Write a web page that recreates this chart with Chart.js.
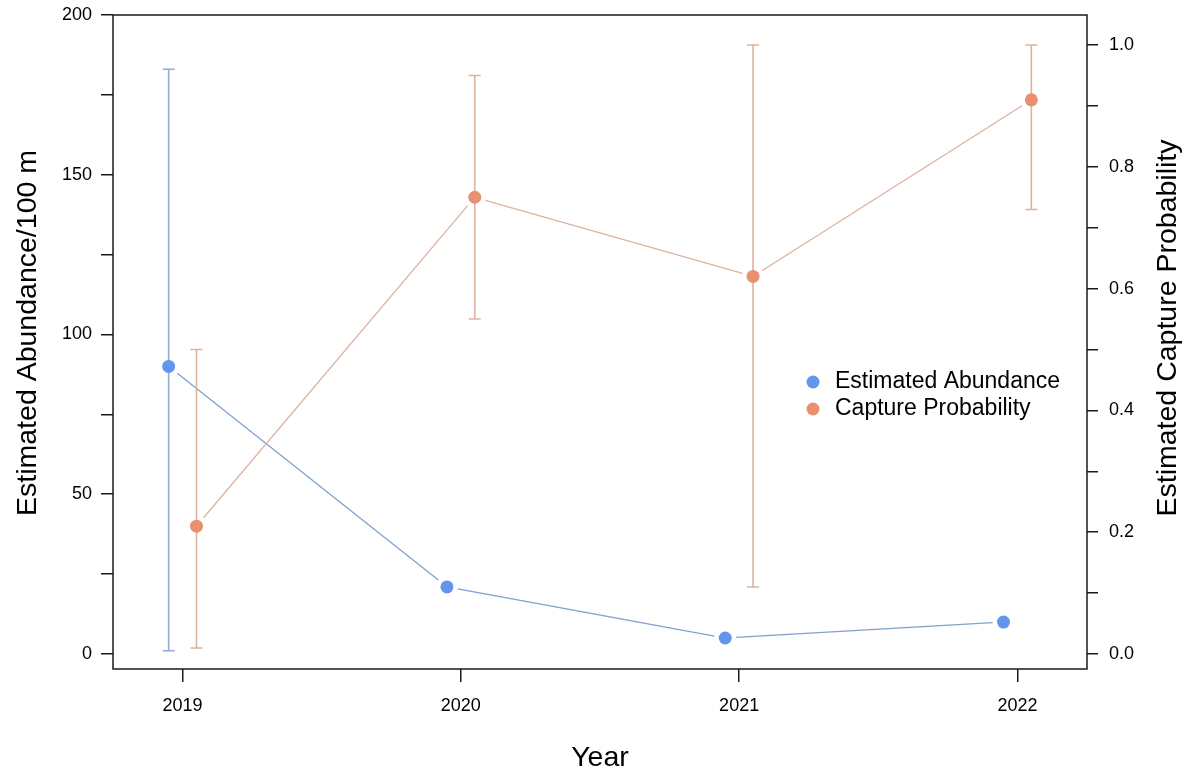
<!DOCTYPE html>
<html>
<head>
<meta charset="utf-8">
<title>Abundance and capture probability</title>
<script src="https://cdn.jsdelivr.net/npm/chart.js@4.4.1/dist/chart.umd.min.js"></script>
<style>
  html, body { margin: 0; padding: 0; background: #fff; }
  canvas { display: block; }
</style>
</head>
<body>
<canvas id="chart" width="1191" height="772"></canvas>
<script>
// survey years
const years = [2019, 2020, 2021, 2022];

// estimated abundance per 100 m with confidence limits
const abundance = [90, 21, 5, 10];
const abundanceLow = [1, null, null, null];
const abundanceHigh = [183, null, null, null];

// capture probability with confidence limits
const probability = [0.21, 0.75, 0.62, 0.91];
const probabilityLow = [0.01, 0.55, 0.11, 0.73];
const probabilityHigh = [0.50, 0.95, 1.00, 1.00];

// axis ticks (labels only on every other one)
const leftTicks = [0, 25, 50, 75, 100, 125, 150, 175, 200];
const rightTicks = [0, 0.1, 0.2, 0.3, 0.4, 0.5, 0.6, 0.7, 0.8, 0.9, 1.0];

const FONT = "'Liberation Sans', Arial, sans-serif";
const BLUE = '#6495ED';
const BLUE_LINE = '#7fa1cc';
const BLUE_BAR = '#92add3';
const ORANGE = '#E8906F';
const ORANGE_LINE = '#dcb39e';
const DODGE = 0.05;

// error bars + connecting lines that stop short of the points
const whiskers = {
    id: 'whiskers',
    beforeDatasetsDraw(chart) {
        const ctx = chart.ctx;
        const xs = chart.scales.x;
        chart.data.datasets.forEach((ds) => {
            const ys = chart.scales[ds.yAxisID];
            const pts = ds.data.map(d => ({ x: xs.getPixelForValue(d.x), y: ys.getPixelForValue(d.y) }));

            ctx.save();
            ctx.strokeStyle = ds.barColor;
            ctx.lineWidth = 1.6;
            ds.low.forEach((lo, i) => {
                const hi = ds.high[i];
                if (lo == null || hi == null) return;
                const x = pts[i].x;
                const y1 = ys.getPixelForValue(lo);
                const y2 = ys.getPixelForValue(hi);
                ctx.beginPath();
                ctx.moveTo(x, y1); ctx.lineTo(x, y2);
                ctx.moveTo(x - 6, y1); ctx.lineTo(x + 6, y1);
                ctx.moveTo(x - 6, y2); ctx.lineTo(x + 6, y2);
                ctx.stroke();
            });

            ctx.strokeStyle = ds.lineColor;
            ctx.lineWidth = 1.3;
            const gap = 11;
            for (let i = 0; i < pts.length - 1; i++) {
                const a = pts[i], b = pts[i + 1];
                const dx = b.x - a.x, dy = b.y - a.y;
                const len = Math.hypot(dx, dy);
                if (len <= gap * 2) continue;
                const ux = dx / len, uy = dy / len;
                ctx.beginPath();
                ctx.moveTo(a.x + ux * gap, a.y + uy * gap);
                ctx.lineTo(b.x - ux * gap, b.y - uy * gap);
                ctx.stroke();
            }
            ctx.restore();
        });
    }
};

// frame, y titles and the legend
const decor = {
    id: 'decor',
    afterDraw(chart) {
        const ctx = chart.ctx;
        const a = chart.chartArea;
        ctx.save();
        ctx.strokeStyle = '#1a1a1a';
        ctx.lineWidth = 1.5;
        ctx.strokeRect(a.left, a.top, a.right - a.left, a.bottom - a.top);

        ctx.fillStyle = '#000';
        ctx.font = '28.5px ' + FONT;
        ctx.textAlign = 'center';
        ctx.textBaseline = 'middle';
        ctx.save();
        ctx.translate(28, 333);
        ctx.rotate(-Math.PI / 2);
        ctx.fillText('Estimated Abundance/100 m', 0, 0);
        ctx.restore();
        ctx.save();
        ctx.translate(1168, 328);
        ctx.rotate(-Math.PI / 2);
        ctx.fillText('Estimated Capture Probability', 0, 0);
        ctx.restore();

        ctx.font = '23px ' + FONT;
        ctx.textAlign = 'left';
        chart.data.datasets.forEach((ds, i) => {
            const y = 382 + i * 27;
            ctx.fillStyle = ds.backgroundColor;
            ctx.beginPath();
            ctx.arc(813, y, 6.5, 0, Math.PI * 2);
            ctx.fill();
            ctx.fillStyle = '#000';
            ctx.fillText(ds.label, 835, y);
        });
        ctx.restore();
    }
};

const tickStyle = { color: '#1a1a1a', lineWidth: 1.5, drawOnChartArea: false, drawTicks: true };

new Chart(document.getElementById('chart'), {
    type: 'scatter',
    data: {
        datasets: [
            {
                label: 'Estimated Abundance',
                data: abundance.map((v, i) => ({ x: years[i] - DODGE, y: v })),
                low: abundanceLow,
                high: abundanceHigh,
                yAxisID: 'y',
                backgroundColor: BLUE,
                borderColor: BLUE,
                lineColor: BLUE_LINE,
                barColor: BLUE_BAR,
                pointRadius: 6.5,
                pointBorderWidth: 0,
                showLine: false
            },
            {
                label: 'Capture Probability',
                data: probability.map((v, i) => ({ x: years[i] + DODGE, y: v })),
                low: probabilityLow,
                high: probabilityHigh,
                yAxisID: 'y1',
                backgroundColor: ORANGE,
                borderColor: ORANGE,
                lineColor: ORANGE_LINE,
                barColor: ORANGE_LINE,
                pointRadius: 6.5,
                pointBorderWidth: 0,
                showLine: false
            }
        ]
    },
    options: {
        responsive: false,
        animation: false,
        devicePixelRatio: 1,
        layout: { padding: { top: 15, left: 0, right: 0, bottom: 0 } },
        plugins: {
            legend: { display: false },
            tooltip: { enabled: false }
        },
        scales: {
            x: {
                type: 'linear',
                min: 2018.75,
                max: 2022.25,
                afterBuildTicks: (s) => { s.ticks = years.map(v => ({ value: v })); },
                afterFit: (s) => { s.height = 103; s.paddingLeft = 0; s.paddingRight = 0; },
                grid: { ...tickStyle, tickLength: 13 },
                border: { display: false },
                ticks: {
                    color: '#000',
                    font: { family: FONT, size: 18 },
                    padding: 13,
                    maxRotation: 0,
                    callback: (v) => String(v)
                },
                title: {
                    display: true,
                    text: 'Year',
                    color: '#000',
                    font: { family: FONT, size: 28.5, lineHeight: 1 },
                    padding: { top: 0, bottom: 0 }
                }
            },
            y: {
                position: 'left',
                min: -4.7,
                max: 200,
                afterBuildTicks: (s) => { s.ticks = leftTicks.map(v => ({ value: v })); },
                afterFit: (s) => { s.width = 113; s.paddingTop = 0; s.paddingBottom = 0; },
                grid: { ...tickStyle, tickLength: 12 },
                border: { display: false },
                ticks: {
                    color: '#000',
                    font: { family: FONT, size: 18 },
                    padding: 9,
                    callback: (v) => (v % 50 === 0 ? String(v) : '')
                }
            },
            y1: {
                position: 'right',
                min: -0.0246,
                max: 1.0493,
                afterBuildTicks: (s) => { s.ticks = rightTicks.map(v => ({ value: v })); },
                afterFit: (s) => { s.width = 104; s.paddingTop = 0; s.paddingBottom = 0; },
                grid: { ...tickStyle, tickLength: 11 },
                border: { display: false },
                ticks: {
                    color: '#000',
                    font: { family: FONT, size: 18 },
                    padding: 11,
                    callback: (v) => (Math.round(v * 10) % 2 === 0 ? v.toFixed(1) : '')
                }
            }
        }
    },
    plugins: [whiskers, decor]
});
</script>
</body>
</html>
